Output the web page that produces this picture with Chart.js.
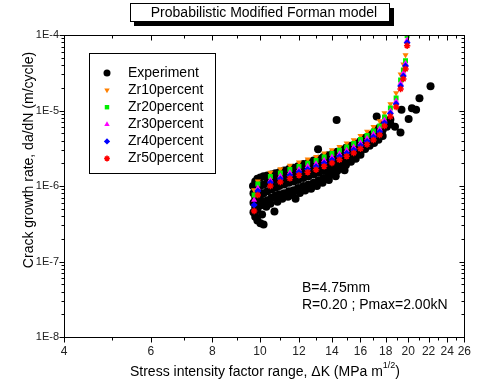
<!DOCTYPE html>
<html>
<head>
<meta charset="utf-8">
<script src="https://cdn.jsdelivr.net/npm/chart.js@4.4.1/dist/chart.umd.min.js"></script>
<style>
  html, body { margin: 0; padding: 0; background: #fff; }
  #wrap { width: 478px; height: 385px; position: relative; }
</style>
</head>
<body>
<div id="wrap"><canvas id="myChart"></canvas></div>
<script>
// stress intensity factor range (MPa m^1/2) shared by the model curves
const kModel = [9.73, 9.9, 10.5, 11, 11.5, 12, 12.5, 13, 13.5, 14, 14.5, 15, 15.5, 16, 16.5, 17, 17.5, 17.9, 18.4, 18.9, 19.3, 19.55, 19.75, 19.9];
const zr10 = [8.85e-7, 1.16e-6, 1.51e-6, 1.68e-6, 1.87e-6, 2.06e-6, 2.26e-6, 2.44e-6, 2.71e-6, 3.0e-6, 3.32e-6, 3.68e-6, 4.07e-6, 4.64e-6, 5.27e-6, 6.10e-6, 7.26e-6, 9.27e-6, 1.22e-5, 1.70e-5, 3.02e-5, 4.09e-5, 5.43e-5, null];
const zr20 = [7.60e-7, 1.06e-6, 1.34e-6, 1.49e-6, 1.65e-6, 1.82e-6, 2.00e-6, 2.18e-6, 2.42e-6, 2.70e-6, 2.97e-6, 3.29e-6, 3.66e-6, 4.13e-6, 4.67e-6, 5.35e-6, 6.23e-6, 8.20e-6, 1.08e-5, 1.46e-5, 2.54e-5, 3.44e-5, 4.57e-5, 9.8e-5];
const zr30 = [6.53e-7, 9.41e-7, 1.20e-6, 1.36e-6, 1.51e-6, 1.66e-6, 1.82e-6, 1.97e-6, 2.19e-6, 2.42e-6, 2.68e-6, 2.97e-6, 3.29e-6, 3.75e-6, 4.26e-6, 4.88e-6, 5.69e-6, 7.48e-6, 9.85e-6, 1.34e-5, 2.31e-5, 3.14e-5, 4.19e-5, 8.59e-5];
const zr40 = [5.60e-7, 8.59e-7, 1.10e-6, 1.24e-6, 1.38e-6, 1.52e-6, 1.66e-6, 1.80e-6, 2.00e-6, 2.21e-6, 2.44e-6, 2.71e-6, 3.00e-6, 3.42e-6, 3.89e-6, 4.46e-6, 5.19e-6, 6.83e-6, 9.13e-6, 1.22e-5, 2.11e-5, 2.86e-5, 3.89e-5, 7.91e-5];
const zr50 = [4.67e-7, 7.60e-7, 1.00e-6, 1.13e-6, 1.26e-6, 1.39e-6, 1.52e-6, 1.64e-6, 1.82e-6, 2.02e-6, 2.23e-6, 2.47e-6, 2.74e-6, 3.12e-6, 3.55e-6, 4.07e-6, 4.74e-6, 6.23e-6, 8.33e-6, 1.11e-5, 1.93e-5, 2.61e-5, 3.55e-5, 7.22e-5];

// measured points [dK, da/dN]
const experiment = [
  [9.68, 1.0e-6], [9.70, 8.0e-7], [9.70, 6.0e-7], [9.70, 4.5e-7],
  [9.78, 1.15e-6], [9.78, 7.0e-7], [9.78, 5.2e-7], [9.78, 3.9e-7],
  [9.88, 1.25e-6], [9.88, 9.0e-7], [9.88, 6.5e-7], [9.88, 4.8e-7], [9.88, 3.5e-7],
  [10.02, 1.3e-6], [10.02, 1.0e-6], [10.02, 7.5e-7], [10.02, 5.5e-7], [10.02, 3.2e-7], [10.1, 4.2e-7],
  [10.17, 1.35e-6], [10.17, 1.05e-6], [10.17, 8.0e-7], [10.17, 6.2e-7], [10.17, 3.1e-7],
  [10.35, 1.38e-6], [10.35, 1.1e-6], [10.35, 8.5e-7], [10.35, 6.5e-7], [10.3, 5.3e-7],
  [10.55, 1.42e-6], [10.55, 1.15e-6], [10.55, 9.0e-7], [10.55, 7.0e-7], [10.5, 5.8e-7],
  [10.70, 4.6e-7],
  [10.75, 1.48e-6], [10.75, 1.2e-6], [10.75, 9.5e-7], [10.75, 7.4e-7], [10.85, 6.2e-7],
  [10.95, 1.52e-6], [10.95, 1.25e-6], [10.95, 1.0e-6], [10.95, 7.8e-7],
  [11.2, 1.6e-6], [11.2, 1.3e-6], [11.2, 1.05e-6], [11.2, 8.0e-7], [11.1, 6.8e-7],
  [11.45, 1.68e-6], [11.45, 1.35e-6], [11.45, 1.1e-6], [11.45, 8.5e-7], [11.4, 7.2e-7],
  [11.7, 1.75e-6], [11.7, 1.42e-6], [11.7, 1.15e-6], [11.7, 8.8e-7], [11.65, 7.6e-7],
  [11.81, 6.8e-7],
  [11.95, 1.83e-6], [11.95, 1.5e-6], [11.95, 1.2e-6], [11.95, 9.4e-7], [12.05, 8.1e-7],
  [12.25, 1.95e-6], [12.25, 1.58e-6], [12.25, 1.28e-6], [12.25, 1.0e-6], [12.35, 8.7e-7],
  [12.55, 2.05e-6], [12.55, 1.68e-6], [12.55, 1.35e-6], [12.55, 1.05e-6], [12.7, 9.2e-7],
  [12.85, 2.18e-6], [12.85, 1.78e-6], [12.85, 1.42e-6], [12.85, 1.1e-6],
  [13.12, 3.06e-6],
  [13.15, 2.3e-6], [13.15, 1.88e-6], [13.15, 1.5e-6], [13.15, 1.18e-6], [13.05, 1.0e-6],
  [13.45, 2.42e-6], [13.45, 2.0e-6], [13.45, 1.6e-6], [13.45, 1.28e-6], [13.4, 1.1e-6],
  [13.75, 2.55e-6], [13.75, 2.1e-6], [13.75, 1.7e-6], [13.75, 1.38e-6], [13.8, 1.2e-6],
  [14.05, 2.7e-6], [14.05, 2.25e-6], [14.05, 1.8e-6], [14.05, 1.48e-6],
  [14.31, 7.5e-6],
  [14.35, 2.85e-6], [14.35, 2.35e-6], [14.35, 1.95e-6], [14.35, 1.58e-6], [14.25, 1.35e-6],
  [14.65, 3.0e-6], [14.65, 2.5e-6], [14.65, 2.05e-6], [14.65, 1.72e-6],
  [14.95, 3.2e-6], [14.95, 2.65e-6], [14.95, 2.2e-6], [14.95, 1.9e-6], [14.85, 1.62e-6],
  [15.3, 3.4e-6], [15.3, 2.85e-6], [15.3, 2.4e-6], [15.3, 2.1e-6],
  [15.65, 3.65e-6], [15.65, 3.05e-6], [15.65, 2.6e-6], [15.65, 2.3e-6],
  [16.0, 3.95e-6], [16.0, 3.3e-6], [16.0, 2.85e-6], [16.0, 2.6e-6],
  [16.35, 4.35e-6], [16.35, 3.65e-6], [16.35, 3.1e-6],
  [16.7, 4.75e-6], [16.7, 4.0e-6], [16.7, 3.4e-6],
  [17.05, 5.2e-6], [17.05, 4.4e-6], [17.05, 3.7e-6],
  [17.26, 8.3e-6],
  [17.4, 5.8e-6], [17.4, 4.9e-6], [17.4, 4.1e-6],
  [17.75, 6.5e-6], [17.75, 5.5e-6], [17.75, 4.6e-6],
  [18.1, 7.2e-6], [18.1, 6.1e-6],
  [18.4, 7.6e-6], [18.4, 6.6e-6],
  [18.8, 6.1e-6], [19.29, 5.1e-6], [19.38, 1.02e-5], [20.04, 7.7e-6],
  [20.35, 1.07e-5], [20.75, 1.02e-5], [21.08, 1.45e-5], [22.2, 2.1e-5]
];

const seriesNames = ['Experiment', 'Zr10percent', 'Zr20percent', 'Zr30percent', 'Zr40percent', 'Zr50percent'];
const xTicks = [4, 6, 8, 10, 12, 14, 16, 18, 20, 22, 24, 26];
const yTicks = [1e-8, 1e-7, 1e-6, 1e-5, 1e-4];

const FONT = '"Liberation Sans", Arial, sans-serif';

function modelSet(label, values, style, color, order, extra) {
  return Object.assign({
    label: label,
    data: kModel.map((k, i) => ({ x: k, y: values[i] })),
    pointStyle: style,
    pointRadius: 3.5,
    backgroundColor: color,
    borderColor: color,
    borderWidth: 0,
    order: order
  }, extra || {});
}

const datasets = [
  {
    label: seriesNames[0],
    data: experiment.map(p => ({ x: p[0], y: p[1] })),
    pointStyle: 'circle',
    pointRadius: 4,
    backgroundColor: '#000',
    borderColor: '#000',
    borderWidth: 0,
    order: 6
  },
  modelSet(seriesNames[1], zr10, 'triangle', '#FF8000', 5, { rotation: 180 }),
  modelSet(seriesNames[2], zr20, 'rect', '#00EE00', 4),
  modelSet(seriesNames[3], zr30, 'triangle', '#FF00FF', 3),
  modelSet(seriesNames[4], zr40, 'rectRot', '#0000FF', 2),
  modelSet(seriesNames[5], zr50, 'star', '#FF0000', 1, { borderWidth: 1.5, pointRadius: 3.2 })
];

// frame, minor ticks, titles, legend box and notes
const decorations = {
  id: 'decorations',
  afterDraw(chart) {
    const ctx = chart.ctx, a = chart.chartArea;
    const xs = chart.scales.x, ys = chart.scales.y;
    const line = (x1, y1, x2, y2) => { ctx.beginPath(); ctx.moveTo(x1, y1); ctx.lineTo(x2, y2); ctx.stroke(); };
    ctx.save();
    ctx.strokeStyle = '#000';
    ctx.lineWidth = 1;
    const L = Math.round(a.left) + 0.5, R = Math.round(a.right) + 0.5;
    const T = Math.round(a.top) + 0.5, B = Math.round(a.bottom) + 0.5;
    ctx.strokeRect(L, T, R - L, B - T);

    for (let v = 4; v <= 26; v++) {
      const px = Math.round(xs.getPixelForValue(v)) + 0.5;
      const len = v % 2 === 0 ? 5 : 3;
      line(px, B, px, B + len);
      line(px, T, px, T + len);
    }
    for (let d = -8; d <= -4; d++) {
      for (let m = 1; m <= 9; m++) {
        if (d === -4 && m > 1) break;
        const py = Math.round(ys.getPixelForValue(m * Math.pow(10, d))) + 0.5;
        const len = m === 1 ? 5 : 3;
        line(L - len, py, L, py);
        line(R - len, py, R, py);
      }
    }

    // title box with shadow
    ctx.fillStyle = '#000';
    ctx.fillRect(134, 8, 260, 18);
    ctx.fillStyle = '#fff';
    ctx.fillRect(130, 3, 260, 18);
    ctx.strokeRect(130.5, 3.5, 259, 18);
    ctx.fillStyle = '#000';
    ctx.font = '14px ' + FONT;
    ctx.textAlign = 'center';
    ctx.textBaseline = 'middle';
    ctx.fillText('Probabilistic Modified Forman model', 264, 13);

    // axis titles
    ctx.save();
    ctx.translate(29, 160);
    ctx.rotate(-Math.PI / 2);
    ctx.fillText('Crack growth rate, da/dN (m/cycle)', 0, 0);
    ctx.restore();

    const main = 'Stress intensity factor range, \u0394K (MPa m';
    ctx.textAlign = 'left';
    ctx.textBaseline = 'alphabetic';
    ctx.font = '14px ' + FONT;
    const wm = ctx.measureText(main).width, wt = ctx.measureText(')').width;
    ctx.font = '9px ' + FONT;
    const ws = ctx.measureText('1/2').width;
    let x0 = 265 - (wm + ws + wt) / 2;
    ctx.font = '14px ' + FONT;
    ctx.fillText(main, x0, 376);
    ctx.font = '9px ' + FONT;
    ctx.fillText('1/2', x0 + wm, 368);
    ctx.font = '14px ' + FONT;
    ctx.fillText(')', x0 + wm + ws, 376);

    // legend
    ctx.strokeRect(89.5, 53.5, 126, 120);
    ctx.textBaseline = 'middle';
    chart.data.datasets.forEach((ds, i) => {
      const y = 73 + i * 17.1;
      ctx.save();
      ctx.fillStyle = ds.backgroundColor;
      ctx.strokeStyle = ds.borderColor;
      ctx.lineWidth = ds.borderWidth || 0.01;
      const r = i === 0 ? 3.5 : ds.pointRadius * 0.9;
      Chart.helpers.drawPoint(ctx, { pointStyle: ds.pointStyle, radius: r, rotation: ds.rotation || 0, borderWidth: ds.borderWidth }, 107, y);
      ctx.restore();
      ctx.fillStyle = '#000';
      ctx.font = '14px ' + FONT;
      ctx.fillText(ds.label, 128, y);
    });

    // specimen notes
    ctx.fillText('B=4.75mm', 302, 288);
    ctx.fillText('R=0.20 ; Pmax=2.00kN', 302, 305);
    ctx.restore();
  }
};

document.addEventListener('DOMContentLoaded', function() {
  const ctx = document.getElementById('myChart').getContext('2d');
  new Chart(ctx, {
    type: 'scatter',
    plugins: [decorations],
    data: { datasets: datasets },
    options: {
      responsive: true,
      maintainAspectRatio: false,
      animation: false,
      layout: { padding: { top: 35, right: 6, left: 0, bottom: 0 } },
      plugins: { legend: { display: false }, tooltip: { enabled: false } },
      scales: {
        x: {
          type: 'logarithmic',
          min: 4,
          max: 26,
          afterBuildTicks: s => { s.ticks = xTicks.map(v => ({ value: v })); },
          afterFit: s => { s.height = 48; },
          grid: { display: false, drawTicks: false },
          border: { display: false },
          ticks: {
            autoSkip: false,
            maxRotation: 0,
            padding: 7,
            color: '#222',
            font: { family: FONT, size: 12 },
            callback: v => String(v)
          }
        },
        y: {
          type: 'logarithmic',
          min: 1e-8,
          max: 1e-4,
          afterBuildTicks: s => { s.ticks = yTicks.map(v => ({ value: v })); },
          afterFit: s => { s.width = 64; },
          grid: { display: false, drawTicks: false },
          border: { display: false },
          ticks: {
            autoSkip: false,
            padding: 5,
            color: '#222',
            font: { family: FONT, size: 11 },
            callback: v => '1E' + Math.round(Math.log10(v))
          }
        }
      }
    }
  });
});
</script>
</body>
</html>
